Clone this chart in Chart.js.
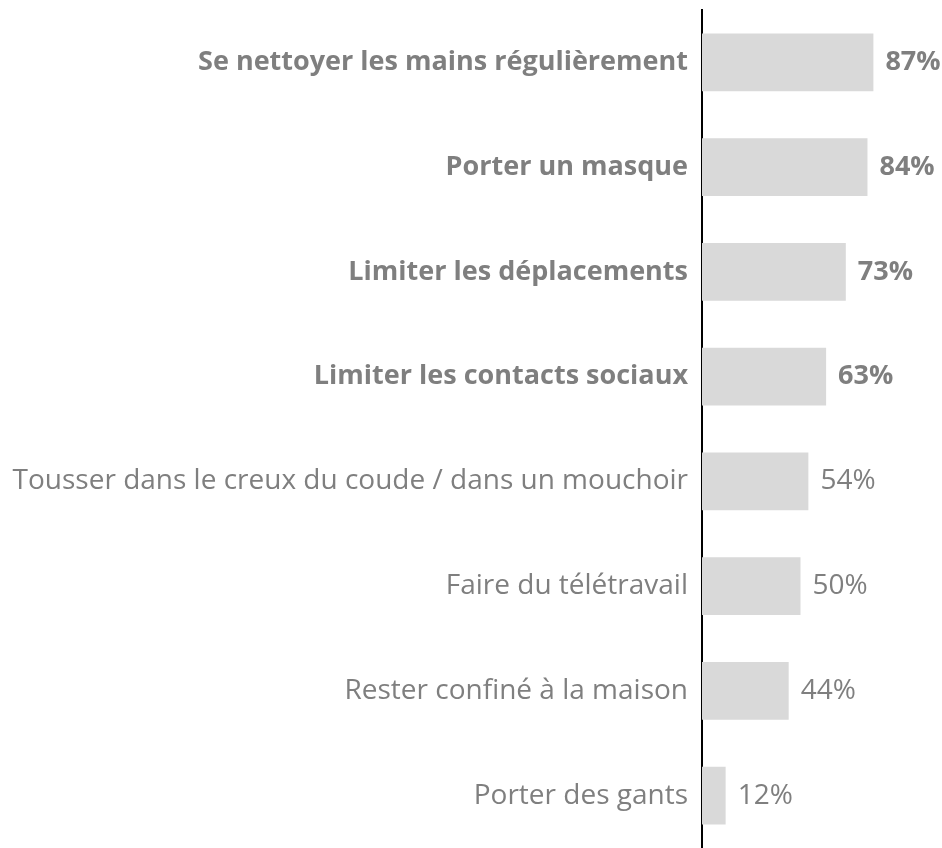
<!DOCTYPE html>
<html>
<head>
<meta charset="utf-8">
<script src="https://cdn.jsdelivr.net/npm/chart.js@4"></script>
<style>
  html, body { margin:0; padding:0; background:#fff; overflow:hidden; }
  #wrap { width:942px; height:848px; }
</style>
</head>
<body>
<div id="wrap"><canvas id="chart"></canvas></div>
<script>
const CATEGORIES = [
  'Se nettoyer les mains régulièrement',
  'Porter un masque',
  'Limiter les déplacements',
  'Limiter les contacts sociaux',
  'Tousser dans le creux du coude / dans un mouchoir',
  'Faire du télétravail',
  'Rester confiné à la maison',
  'Porter des gants'
];
const VALUES = [87, 84, 73, 63, 54, 50, 44, 12];
const BOLD_ROWS = [true, true, true, true, false, false, false, false];

const TEXT_GREY = '#7f7f7f';
const BAR_GREY = '#d9d9d9';
const FONT = "'Open Sans', sans-serif";

function rowFont(i){
  return BOLD_ROWS[i] ? {family:FONT, size:27, weight:'bold'} : {family:FONT, size:28, weight:'normal'};
}

// value labels after each bar
const valueLabels = {
  id:'valueLabels',
  afterDatasetsDraw(chart){
    const ctx = chart.ctx;
    const meta = chart.getDatasetMeta(0);
    ctx.save();
    ctx.fillStyle = TEXT_GREY;
    ctx.textBaseline = 'middle';
    ctx.textAlign = 'left';
    meta.data.forEach((bar, i) => {
      const f = rowFont(i);
      ctx.font = f.weight + ' ' + f.size + 'px ' + FONT;
      ctx.fillText(VALUES[i] + '%', bar.x + 12, bar.y);
    });
    ctx.restore();
  }
};

new Chart(document.getElementById('chart'), {
  type:'bar',
  data:{
    labels:CATEGORIES,
    datasets:[{
      data:VALUES,
      backgroundColor:BAR_GREY,
      borderWidth:0,
      barPercentage:0.552,
      categoryPercentage:1
    }]
  },
  options:{
    indexAxis:'y',
    responsive:true, maintainAspectRatio:false,
    animation:false,
    layout:{padding:{top:10, right:43, bottom:-4, left:0}},
    plugins:{legend:{display:false}, tooltip:{enabled:false}},
    scales:{
      x:{display:false, min:0, max:100},
      y:{
        grid:{display:false, drawTicks:false},
        border:{display:true, color:'#000', width:2},
        ticks:{
          padding:14,
          color:TEXT_GREY,
          font:(c) => rowFont(c.index)
        },
        afterFit(scale){
          scale.width = 702;
          scale.paddingTop = 0;
          scale.paddingBottom = 0;
        }
      }
    }
  },
  plugins:[valueLabels]
});
</script>
</body>
</html>
